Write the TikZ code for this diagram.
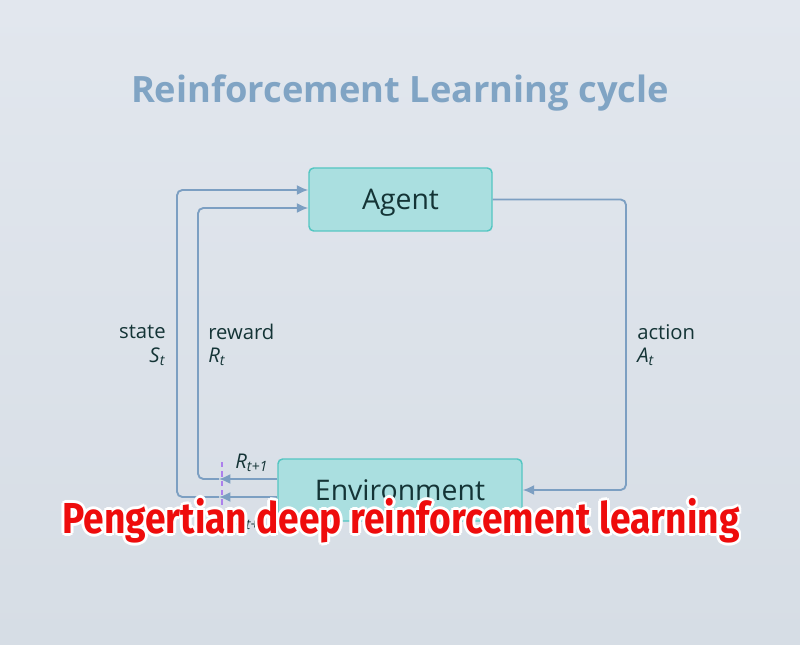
\documentclass[tikz,border=0pt]{standalone}
\usepackage{fontspec}
\setmainfont{Open Sans}
\newfontfamily\titlefont{Open Sans}
\newfontfamily\redfont[FakeStretch=0.858]{Fira Sans}
\usetikzlibrary{arrows.meta,calc}
\definecolor{bgtop}{RGB}{226,231,238}
\definecolor{bgbot}{RGB}{214,221,229}
\definecolor{titlec}{RGB}{128,164,196}
\definecolor{boxfill}{RGB}{170,223,224}
\definecolor{boxdraw}{RGB}{84,198,194}
\definecolor{txt}{RGB}{20,52,54}
\definecolor{conn}{RGB}{124,159,194}
\definecolor{purp}{RGB}{172,128,236}
\definecolor{redt}{RGB}{238,12,12}
\tikzset{
  box/.style={draw=boxdraw, fill=boxfill, line width=1.1pt, rounded corners=3.5pt, text=txt, font=\fontsize{21.3}{25}\selectfont, inner sep=0pt, text height=15.5pt, text depth=0pt},
  conline/.style={draw=conn, line width=1.4pt, rounded corners=4pt},
  tip/.style={-{Latex[length=8.5pt,width=7.5pt]}},
  lab/.style={text=txt, font=\fontsize{15.2}{18}\selectfont, inner sep=0pt},
  redtxt/.style={font=\redfont\bfseries\fontsize{32.5}{38}\selectfont},
}
\begin{document}
\begin{tikzpicture}[x=0.75pt,y=-0.75pt]
\shade[top color=bgtop, bottom color=bgbot] (0,0) rectangle (800,645);
\useasboundingbox (0,0) rectangle (800,645);
\node[text=titlec, font=\titlefont\bfseries\fontsize{27.2}{32}\selectfont] (title) at (400,93) {Reinforcement Learning cycle};
\node[box, minimum width=137.25pt, minimum height=47.25pt] (agent) at (400.5,199.5) {Agent};
\node[box, minimum width=183pt, minimum height=46.5pt] (env) at (400,490) {Environment};
% action
\draw[conline, tip] (agent.east) -- (626,199.5) -- (626,490) -- (env.east);
% state
\coordinate (sm) at (219,497);
\coordinate (rm) at (219,479);
\draw[conline, tip] ($(env.west)+(0,7)$) -- (sm);
\draw[conline, tip] (sm) -- (177,497) -- (177,190) -- ($(agent.west)+(0,-9.5)$);
% reward
\draw[conline, tip] ($(env.west)+(0,-11)$) -- (rm);
\draw[conline, tip] (rm) -- (198,479) -- (198,208) -- ($(agent.west)+(0,8.5)$);
% dashed marker
\coordinate (dtop) at (222,462);
\coordinate (dbot) at (222,516);
\draw[purp, dashed, line width=1.1pt, dash pattern=on 4pt off 3pt] (dtop) -- (dbot);
% labels
\node[lab, anchor=east] (lstate) at (166,332) {state};
\node[lab, anchor=east] (lS) at (166,357) {\textit{S}\textsubscript{\textit{t}}};
\node[lab, anchor=west] (lreward) at (208,332) {reward};
\node[lab, anchor=west] (lR) at (208,357) {\textit{R}\textsubscript{\textit{t}}};
\node[lab, anchor=west] (laction) at (637,332) {action};
\node[lab, anchor=west] (lA) at (637,357) {\textit{A}\textsubscript{\textit{t}}};
\node[lab, anchor=west] (lR1) at (235,463) {\textit{R}\textsubscript{\textit{t+1}}};
\node[lab, anchor=west] (lS1) at (235,520) {\textit{S}\textsubscript{\textit{t+1}}};
% red overlay with white outline
\foreach \a in {0,45,...,359} {
  \node[text=white, redtxt] at ($(401,521)+(\a:2.8)$) {Pengertian deep reinforcement learning};
}
\node[text=redt, redtxt] (red) at (401,521) {Pengertian deep reinforcement learning};
\end{tikzpicture}
\end{document}
